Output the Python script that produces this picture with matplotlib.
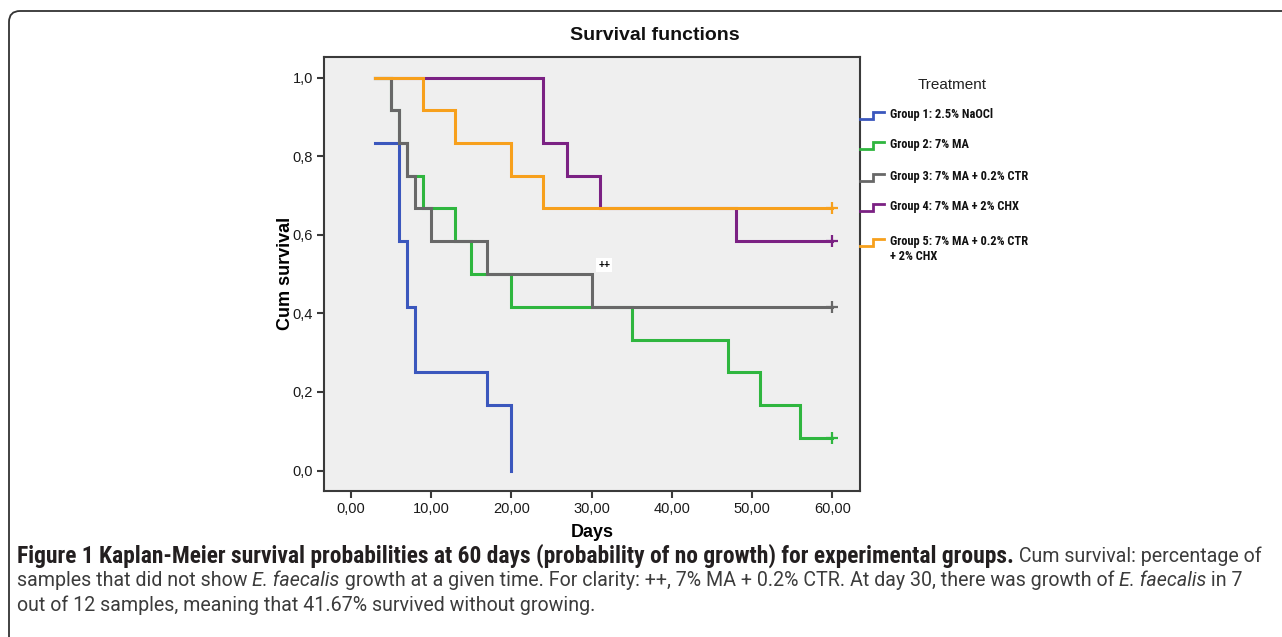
#!/usr/bin/env python3
''' Kaplan-Meier survival curves for the five treatment groups
'''

import matplotlib
matplotlib.use('Agg')
from matplotlib import pyplot, font_manager
from matplotlib.lines import Line2D
from matplotlib.patches import FancyBboxPatch
from matplotlib.transforms import IdentityTransform
from matplotlib.ticker import FuncFormatter

#
# data
#

group_names = ['Group 1: 2.5% NaOCl', 'Group 2: 7% MA', 'Group 3: 7% MA + 0.2% CTR',
               'Group 4: 7% MA + 2% CHX', 'Group 5: 7% MA + 0.2% CTR\n+ 2% CHX']
group_colors = ['#3b57bd', '#2fb63f', '#686868', '#7b2183', '#f7a01c']

g1_days = [3, 6, 7, 8, 17, 20]
g1_surv = [0.833, 0.583, 0.417, 0.25, 0.167, 0.0]
g2_days = [3, 5, 6, 7, 9, 13, 15, 20, 35, 47, 51, 56, 60]
g2_surv = [1.0, 0.917, 0.833, 0.75, 0.667, 0.583, 0.5, 0.417, 0.333, 0.25, 0.167, 0.083, 0.083]
g3_days = [3, 5, 6, 7, 8, 10, 17, 30, 60]
g3_surv = [1.0, 0.917, 0.833, 0.75, 0.667, 0.583, 0.5, 0.417, 0.417]
g4_days = [3, 24, 27, 31, 48, 60]
g4_surv = [1.0, 0.833, 0.75, 0.667, 0.583, 0.583]
g5_days = [3, 9, 13, 20, 24, 60]
g5_surv = [1.0, 0.917, 0.833, 0.75, 0.667, 0.667]

# censored observations (day, survival) per group
censored = [None, (60, 0.083), (60, 0.417), (60, 0.583), (60, 0.667)]

annot_text = '++'
annot_pos = (31.6, 0.523)

xticks = [0, 10, 20, 30, 40, 50, 60]
yticks = [0.0, 0.2, 0.4, 0.6, 0.8, 1.0]

caption_lines = [
    [('Figure 1 Kaplan-Meier survival probabilities at 60 days (probability of no growth) '
      'for experimental groups.', 'bold', 'normal'),
     (' Cum survival: percentage of', 'normal', 'normal')],
    [('samples that did not show ', 'normal', 'normal'),
     ('E. faecalis', 'normal', 'italic'),
     (' growth at a given time. For clarity: ++, 7% MA + 0.2% CTR. At day 30, there was growth of ',
      'normal', 'normal'),
     ('E. faecalis', 'normal', 'italic'),
     (' in 7', 'normal', 'normal')],
    [('out of 12 samples, meaning that 41.67% survived without growing.', 'normal', 'normal')],
]

#
# functions
#

W, H = 1282, 637


def pick(*names):
    for n in names:
        try:
            font_manager.findfont(n, fallback_to_default=False)
            return n
        except ValueError:
            pass
    return 'DejaVu Sans'


def fx(x):
    return x / W


def fy(y):
    return 1 - y / H


#
# main
#

arial = pick('Liberation Sans', 'Arimo', 'DejaVu Sans')
narrow = pick('Liberation Sans Narrow', 'Roboto Condensed', 'Open Sans', 'Noto Sans')
plain = pick('Roboto', 'Noto Sans', 'Open Sans')

fig = pyplot.figure(figsize=(W / 100, H / 100), dpi=100)
ax = fig.add_axes([fx(324), fy(491), fx(859.7) - fx(324), fy(56.7) - fy(491)])
ax.set_facecolor('#efefef')

series = [(g1_days, g1_surv), (g2_days, g2_surv), (g3_days, g3_surv),
          (g4_days, g4_surv), (g5_days, g5_surv)]
for i, (d, s) in enumerate(series):
    ax.step(d, s, where='post', color=group_colors[i], lw=2.2, solid_joinstyle='miter')
    if censored[i] is not None:
        ax.plot([censored[i][0]], [censored[i][1]], ls='', marker='+', ms=8, mew=1.6,
                color=group_colors[i])

ax.text(annot_pos[0], annot_pos[1], annot_text, fontsize=7.5, fontweight='bold',
        family=arial, ha='center', va='center',
        bbox=dict(facecolor='white', edgecolor='none', pad=1.5))

ax.set_xlim(-3.32, 63.4)
ax.set_ylim(-0.052, 1.053)
ax.set_xticks(xticks)
ax.set_yticks(yticks)
ax.xaxis.set_major_formatter(FuncFormatter(lambda v, p: '{:.2f}'.format(v).replace('.', ',')))
ax.yaxis.set_major_formatter(FuncFormatter(lambda v, p: '{:.1f}'.format(v).replace('.', ',')))
for sp in ax.spines.values():
    sp.set_color('#3a3a3a')
    sp.set_linewidth(1.5)
ax.tick_params(direction='out', length=5, width=1.5, color='#3a3a3a',
               labelsize=10.5, labelcolor='#1a1a1a', pad=3)
for lab in ax.get_xticklabels() + ax.get_yticklabels():
    lab.set_family(arial)

ax.set_xlabel('Days', fontsize=13, fontweight='bold', family=arial, labelpad=6)
ax.set_ylabel('Cum survival', fontsize=13, fontweight='bold', family=arial, labelpad=-1)
fig.text(fx(655), fy(36), 'Survival functions', fontsize=14, fontweight='bold',
         family=arial, ha='center', va='center', color='#111111')

# legend drawn by hand, SPSS style
fig.text(fx(952), fy(85), 'Treatment', fontsize=11, family=arial, ha='center',
         va='center', color='#222222')
legend_y = [115, 145, 177, 207, 242]
for i, name in enumerate(group_names):
    yc = legend_y[i]
    xs = [fx(860), fx(873), fx(873), fx(884)]
    ys = [fy(yc + 4), fy(yc + 4), fy(yc - 3), fy(yc - 3)]
    fig.add_artist(Line2D(xs, ys, color=group_colors[i], lw=2.0, solid_joinstyle='miter'))
    fig.text(fx(890), fy(yc - 7), name, fontsize=8.9, fontweight='bold', family=narrow,
             ha='left', va='top', linespacing=1.2, color='#111111')

# rounded frame around the whole figure
frame = FancyBboxPatch((9, -40), 1400, H - 11 + 40, boxstyle='round,pad=0,rounding_size=11',
                       transform=IdentityTransform(), facecolor='none', edgecolor='#333333',
                       lw=1.3)
fig.patches.append(frame)
frame.set_figure(fig)

# caption, mixing bold / italic runs
renderer = fig.canvas.get_renderer()


def run_font(weight):
    return narrow if weight == 'bold' else plain


def text_width(s, size, weight, style):
    t = fig.text(0, 0, s, fontsize=size, fontweight=weight, fontstyle=style,
                 family=run_font(weight))
    w = t.get_window_extent(renderer).width
    t.remove()
    return w


def run_width(s, size, weight, style):
    # add guard chars so leading / trailing spaces count
    return (text_width('|' + s + '|', size, weight, style)
            - text_width('||', size, weight, style))


base = 10
wb = run_width(caption_lines[0][0][0], base, 'bold', 'normal')
w2 = sum(run_width(s, base, wt, st) for s, wt, st in caption_lines[1])
size_bold = base * 1002 / wb
size_plain = base * 1227 / w2

line_y = [556, 580, 605]
for k, runs in enumerate(caption_lines):
    x = 17
    for s, wt, st in runs:
        size = size_bold if wt == 'bold' else size_plain
        color = '#231f20' if wt == 'bold' else '#3c3c3c'
        fig.text(fx(x), fy(line_y[k]), s, fontsize=size, fontweight=wt, fontstyle=st,
                 family=run_font(wt), ha='left', va='center', color=color)
        x += run_width(s, size, wt, st)

fig.savefig('out.png', dpi=100)
